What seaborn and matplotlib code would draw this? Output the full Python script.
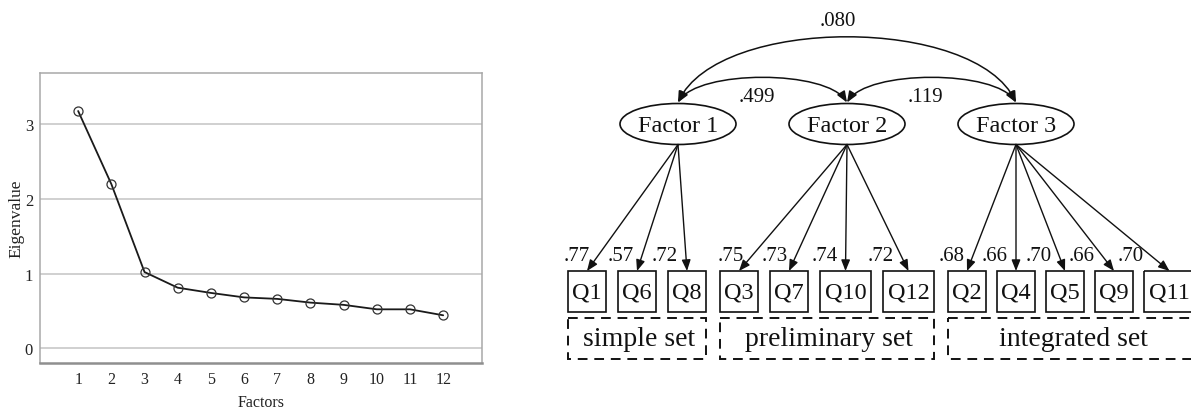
import numpy as np
import pandas as pd
import seaborn as sns
import matplotlib.pyplot as plt
from matplotlib.patches import Ellipse, Rectangle, FancyArrowPatch
from matplotlib.path import Path

# scree plot values
factor_numbers = list(range(1, 13))
eigenvalues = [3.18, 2.20, 1.02, 0.81, 0.74, 0.68, 0.66, 0.61, 0.58, 0.52, 0.52, 0.44]

# path diagram values
factor_names = ['Factor 1', 'Factor 2', 'Factor 3']
items = [['Q1', 'Q6', 'Q8'],
         ['Q3', 'Q7', 'Q10', 'Q12'],
         ['Q2', 'Q4', 'Q5', 'Q9', 'Q11']]
loadings = [['.77', '.57', '.72'],
            ['.75', '.73', '.74', '.72'],
            ['.68', '.66', '.70', '.66', '.70']]
set_names = ['simple set', 'preliminary set', 'integrated set']
cov_pairs = [(0, 1), (1, 2), (0, 2)]
cov_labels = ['.499', '.119', '.080']

sns.set_theme(style='white')
plt.rcParams['font.family'] = ['Liberation Serif', 'DejaVu Serif']

W, H = 1191, 410
fig = plt.figure(figsize=(W / 100, H / 100), dpi=100)

# ---- left: scree plot ----
ax1 = fig.add_axes([40 / W, 1 - 364 / H, 442 / W, 290 / H])
df = pd.DataFrame({'Factor': factor_numbers, 'Eigenvalue': eigenvalues})
sns.lineplot(data=df, x='Factor', y='Eigenvalue', ax=ax1, color='#1a1a1a', lw=1.3,
             marker='o', markersize=6.5, markerfacecolor='none',
             markeredgecolor='#333333', markeredgewidth=0.9)
ax1.set_xlim(-0.15, 13.17)
ax1.set_ylim(-0.2, 3.69)
ax1.set_xticks(factor_numbers)
ax1.set_yticks([0, 1, 2, 3])
ax1.yaxis.grid(True, color='#c4c4c4', lw=1.1)
ax1.set_axisbelow(True)
for s in ax1.spines.values():
    s.set_color('#a8a8a8')
    s.set_linewidth(1.1)
ax1.spines['bottom'].set_color('#8f8f8f')
ax1.spines['bottom'].set_linewidth(1.8)
ax1.tick_params(axis='x', length=0, pad=6, labelsize=11.5, labelcolor='#222222')
ax1.tick_params(axis='y', length=2, pad=3, labelsize=12, labelcolor='#222222', color='#a8a8a8')
ax1.set_xlabel('Factors', fontsize=11.5, labelpad=5, color='#222222')
ax1.set_ylabel('Eigenvalue', fontsize=12.5, labelpad=0, color='#222222')

# ---- right: path diagram (pixel coordinates) ----
ax2 = fig.add_axes([0, 0, 1, 1])
ax2.set_xlim(0, W)
ax2.set_ylim(H, 0)
ax2.axis('off')
ax2.patch.set_alpha(0)

ink = '#111111'
f_x = [678 + 169 * i for i in range(3)]
f_y = 125
ew, eh = 116, 41
for name, x in zip(factor_names, f_x):
    ax2.add_patch(Ellipse((x, f_y), ew, eh, fill=False, ec=ink, lw=1.2))
    ax2.text(x, f_y + 1, name, ha='center', va='center', fontsize=17.5, color=ink)

head = '-|>,head_length=0.55,head_width=0.22'
box_top, box_h = 272, 41
x = 568
for g, (grp, lds) in enumerate(zip(items, loadings)):
    gx0 = x
    for it, ld in zip(grp, lds):
        bw = 38 if len(it) == 2 else 51
        ax2.add_patch(Rectangle((x, box_top), bw, box_h, fill=False, ec=ink, lw=1.2))
        ax2.text(x + bw / 2, box_top + box_h / 2 + 1, it, ha='center', va='center',
                 fontsize=17.5, color=ink)
        cx = x + bw / 2
        sx, sy = f_x[g], f_y + eh / 2
        ax2.add_patch(FancyArrowPatch((sx, sy), (cx, box_top), arrowstyle=head,
                                      mutation_scale=12, lw=1.0, color=ink,
                                      shrinkA=0, shrinkB=0))
        ly = 257
        lx = cx - (cx - sx) * (box_top - ly) / (box_top - sy) - 21
        ax2.text(lx, ly, ld, ha='center', va='center', fontsize=15, color=ink)
        x += bw + (12 if g < 2 else 11)
    gx1 = x - (12 if g < 2 else 11)
    ax2.add_patch(Rectangle((gx0, 319), gx1 - gx0, 41, fill=False, ec=ink, lw=1.4,
                            ls=(0, (5, 3.5))))
    ax2.text((gx0 + gx1) / 2 + 2, 340, set_names[g], ha='center', va='center',
             fontsize=20, color=ink)
    x += 2

dhead = '<|-|>,head_length=0.55,head_width=0.22'
top_y = f_y - eh / 2 - 1
for (a, b), lab in zip(cov_pairs, cov_labels):
    x1, x2 = f_x[a], f_x[b]
    span = b - a
    c = 33 + 54 * (span - 1)
    k = 0.12 * (x2 - x1)
    p = Path([(x1, top_y), (x1 + k, top_y - c), (x2 - k, top_y - c), (x2, top_y)],
             [Path.MOVETO, Path.CURVE4, Path.CURVE4, Path.CURVE4])
    ax2.add_patch(FancyArrowPatch(path=p, arrowstyle=dhead, mutation_scale=12,
                                  lw=1.1, color=ink))
    mid = (x1 + x2) / 2
    if span == 1:
        ax2.text(mid - 6, 97, lab, ha='center', va='center', fontsize=15, color=ink)
    else:
        ax2.text(mid - 9, 22, lab, ha='center', va='center', fontsize=15, color=ink)

fig.savefig('out.png', dpi=100)
